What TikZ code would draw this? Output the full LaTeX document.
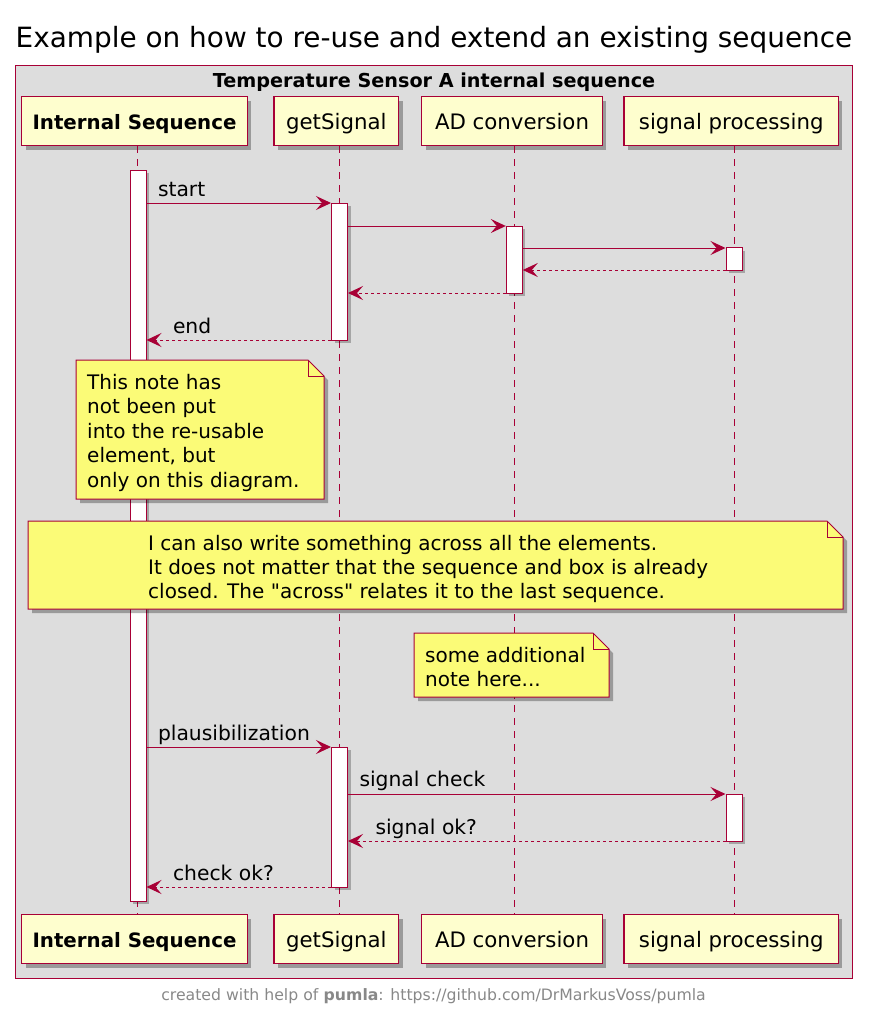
\documentclass[tikz,border=0pt]{standalone}
\usepackage{fontspec}
\setmainfont{DejaVu Sans}
\newfontfamily\dvplain{DejaVu Sans}
\usetikzlibrary{shadows,arrows.meta}
\definecolor{pborder}{HTML}{A80036}
\definecolor{pfill}{HTML}{FEFECE}
\definecolor{nfill}{HTML}{FBFB77}
\definecolor{boxbg}{HTML}{DDDDDD}
\definecolor{foot}{HTML}{888888}
\tikzset{
  shdw/.style={drop shadow={shadow xshift=4pt, shadow yshift=-4pt, fill=black, opacity=0.3}},
  part/.style={draw=pborder, fill=pfill, line width=1.5pt, rectangle, inner sep=0pt,
    minimum height=49pt, font=\fontsize{21.3}{25}\selectfont, text height=21pt, text depth=4pt, shdw},
  life/.style={draw=pborder, line width=1pt, dash pattern=on 7pt off 6pt},
  act/.style={draw=pborder, fill=white, line width=1pt, rectangle, inner sep=0pt, minimum width=16pt,
    drop shadow={shadow xshift=3pt, shadow yshift=-3pt, fill=black, opacity=0.25}},
  msg/.style={draw=pborder, line width=1pt, -{Stealth[length=15pt,width=14pt,inset=6pt]}},
  ret/.style={msg, dash pattern=on 3pt off 3pt},
  lbl/.style={font=\fontsize{20.3}{24}\selectfont, inner sep=0pt, text=black},
  note/.style={draw=pborder, fill=nfill, line width=1pt, shdw},
  notefold/.style={draw=pborder, line width=1pt},
  notetext/.style={font=\dvplain\fontsize{20}{24.5}\selectfont, align=left, inner sep=0pt, anchor=base west}
}
\begin{document}
\begin{tikzpicture}[x=1pt,y=-1pt]
\useasboundingbox (0,0) rectangle (876,1012);
% title
\node[anchor=base west, inner sep=0pt, font=\fontsize{27.9}{32}\selectfont] (title) at (15.5,47)
  {Example on how to re-use and extend an existing sequence};
% frame
\node[draw=pborder, fill=boxbg, line width=1pt, minimum width=837pt, minimum height=913pt,
  inner sep=0pt, anchor=north west] (frame) at (15,65) {};
\node[anchor=base, inner sep=0pt, font=\bfseries\fontsize{19.2}{24}\selectfont] (boxtitle) at (434,87)
  {Temperature Sensor A internal sequence};
% participants top
\node[part, minimum width=225.6pt] (is1) at (134.5,121.2) {\bfseries\fontsize{19.8}{24}\selectfont Internal Sequence};
\node[part, minimum width=124.7pt] (gs1) at (336.3,121.2) {getSignal};
\node[part, minimum width=180.6pt] (ad1) at (512,121.2) {AD conversion};
\node[part, minimum width=214.3pt] (sp1) at (731.2,121.2) {signal processing};
% participants bottom
\node[part, minimum width=225.6pt] (is2) at (134.5,939) {\bfseries\fontsize{19.8}{24}\selectfont Internal Sequence};
\node[part, minimum width=124.7pt] (gs2) at (336.3,939) {getSignal};
\node[part, minimum width=180.6pt] (ad2) at (512,939) {AD conversion};
\node[part, minimum width=214.3pt] (sp2) at (731.2,939) {signal processing};
% lifelines
\draw[life] ([xshift=3pt]is1.south) -- ([xshift=3pt]is2.north);
\draw[life] ([xshift=3pt]gs1.south) -- ([xshift=3pt]gs2.north);
\draw[life] ([xshift=2.3pt]ad1.south) -- ([xshift=2.3pt]ad2.north);
\draw[life] ([xshift=2.8pt]sp1.south) -- ([xshift=2.8pt]sp2.north);
% activations
\node[act, minimum height=731pt] (a0) at (138,535.5) {};
\node[act, minimum height=137pt] (a1) at (339.5,271.5) {};
\node[act, minimum height=67pt] (a2) at (514.3,259.5) {};
\node[act, minimum height=22.5pt] (a3) at (734,259.2) {};
\node[act, minimum height=140pt] (a4) at (339.5,817) {};
\node[act, minimum height=47pt] (a5) at (734,817.5) {};
% messages
\draw[msg] (a0.east |- 0,203) -- node[lbl, pos=0, anchor=base west, xshift=11pt, yshift=7pt] (l1) {start} (a1.west |- 0,203);
\draw[msg] (a1.east |- 0,226) -- (a2.west |- 0,226);
\draw[msg] (a2.east |- 0,248) -- (a3.west |- 0,248);
\draw[ret] (a3.west |- 0,270) -- (a2.east |- 0,270);
\draw[ret] (a2.west |- 0,293) -- (a1.east |- 0,293);
\draw[ret] (a1.west |- 0,340) -- node[lbl, pos=1, anchor=base west, xshift=26pt, yshift=7pt] (l2) {end} (a0.east |- 0,340);
\draw[msg] (a0.east |- 0,747) -- node[lbl, pos=0, anchor=base west, xshift=11pt, yshift=7pt] (l3) {plausibilization} (a4.west |- 0,747);
\draw[msg] (a4.east |- 0,794) -- node[lbl, pos=0, anchor=base west, xshift=11pt, yshift=8pt] (l4) {signal check} (a5.west |- 0,794);
\draw[ret] (a5.west |- 0,841) -- node[lbl, pos=1, anchor=base west, xshift=27pt, yshift=7pt] (l5) {signal ok?} (a4.east |- 0,841);
\draw[ret] (a4.west |- 0,887) -- node[lbl, pos=1, anchor=base west, xshift=26pt, yshift=7pt] (l6) {check ok?} (a0.east |- 0,887);
% note 1
\path[note] (76,360) -- (308,360) -- (324,376) -- (324,499) -- (76,499) -- cycle;
\draw[notefold] (308,360) -- (308,376) -- (324,376);
\node[notetext] (n1) at (87,487) {This note has\\not been put\\into the re-usable\\element, but\\only on this diagram.};
% note 2
\path[note] (28,521) -- (827,521) -- (843,537) -- (843,609) -- (28,609) -- cycle;
\draw[notefold] (827,521) -- (827,537) -- (843,537);
\node[notetext, font=\dvplain\fontsize{20}{24}\selectfont] (n2) at (148,598) {I can also write something across all the elements.\\It does not matter that the sequence and box is already\\closed. The "across" relates it to the last sequence.};
% note 3
\path[note] (414,633) -- (593,633) -- (609,649) -- (609,697) -- (414,697) -- cycle;
\draw[notefold] (593,633) -- (593,649) -- (609,649);
\node[notetext, font=\dvplain\fontsize{20}{24}\selectfont] (n3) at (425,686) {some additional\\note here...};
% footer
\node[anchor=base, inner sep=0pt, font=\fontsize{15.7}{18}\selectfont, text=foot] (footer) at (433.5,1000)
  {created with help of \textbf{pumla}: https://github.com/DrMarkusVoss/pumla};
\end{tikzpicture}
\end{document}
